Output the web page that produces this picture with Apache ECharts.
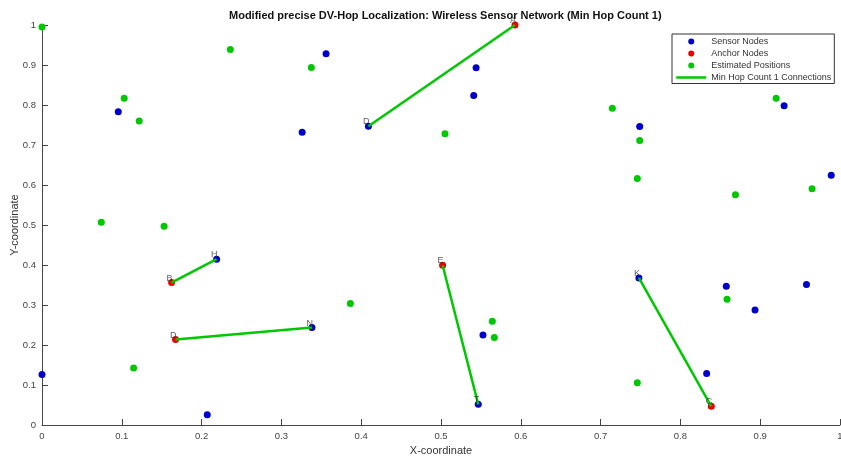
<!DOCTYPE html>
<html>
<head>
<meta charset="utf-8">
<script src="https://cdn.jsdelivr.net/npm/echarts@6/dist/echarts.min.js"></script>
<style>html,body{margin:0;padding:0;background:#fff;}#c{width:841px;height:458px;}</style>
</head>
<body>
<div id="c"></div>
<script>
// Sensor nodes (blue)
var sensorX = [0.0956, 0.326, 0.356, 0.409, 0.544, 0.541, 0.749, 0.930, 0.989, 0.2188,
               0.3383, 0.000, 0.2071, 0.5467, 0.5526, 0.748, 0.8329, 0.8575, 0.8935, 0.958];
var sensorY = [0.783, 0.732, 0.928, 0.747, 0.893, 0.824, 0.746, 0.798, 0.6245, 0.4145,
               0.2435, 0.126, 0.0258, 0.0516, 0.2252, 0.3678, 0.129, 0.3469, 0.2878, 0.3511];
// Anchor nodes (red)
var anchorX = [0.5927, 0.1624, 0.1674, 0.502, 0.8387];
var anchorY = [1.000, 0.356, 0.2135, 0.3994, 0.0466];
var anchorLabels = ['A', 'B', 'D', 'E', 'C'];
// Estimated positions (green)
var estX = [0.000, 0.236, 0.3375, 0.103, 0.1218, 0.0743, 0.153, 0.505, 0.7147, 0.749,
            0.746, 0.920, 0.965, 0.869, 0.3864, 0.1148, 0.5643, 0.5668, 0.746, 0.8584];
var estY = [0.995, 0.939, 0.894, 0.817, 0.760, 0.507, 0.497, 0.728, 0.792, 0.711,
            0.616, 0.817, 0.5905, 0.5755, 0.3035, 0.1426, 0.2593, 0.2185, 0.1058, 0.3143];
// Min hop count 1 connections: anchor index -> sensor index
var connAnchor = [0, 1, 2, 3, 4];
var connSensor = [3, 9, 10, 13, 15];
var connSensorLabels = ['D', 'H', 'N', 'T', 'K'];
// Tick settings
var axisMin = 0, axisMax = 1, axisStep = 0.1;

var BLUE = '#0000cc', RED = '#ee0000', GREEN = '#00c800';
var FONT = 'Liberation Sans, Arial, sans-serif';

function zip(a, b) { return a.map(function (v, i) { return [v, b[i]]; }); }

var series = [
  { name: 'Sensor Nodes', type: 'scatter', symbolSize: 7, itemStyle: { color: BLUE, opacity: 1 }, data: zip(sensorX, sensorY), z: 2 },
  { name: 'Anchor Nodes', type: 'scatter', symbolSize: 7, itemStyle: { color: RED, opacity: 1 }, data: zip(anchorX, anchorY), z: 2 },
  { name: 'Estimated Positions', type: 'scatter', symbolSize: 7, itemStyle: { color: GREEN, opacity: 1 }, data: zip(estX, estY), z: 2 }
];
var labelData = [];
connAnchor.forEach(function (a, k) {
  var s = connSensor[k];
  series.push({
    name: 'Min Hop Count 1 Connections', type: 'line', symbol: 'none', showSymbol: false,
    lineStyle: { color: GREEN, width: 2.5 }, itemStyle: { color: GREEN }, z: 3,
    data: [[anchorX[a], anchorY[a]], [sensorX[s], sensorY[s]]]
  });
  labelData.push({ value: [anchorX[a], anchorY[a]], name: anchorLabels[a] });
  labelData.push({ value: [sensorX[s], sensorY[s]], name: connSensorLabels[k] });
});
series.push({
  type: 'scatter', symbolSize: 0, z: 4, silent: true, data: labelData,
  label: { show: true, formatter: '{b}', position: 'top', distance: 0, align: 'right',
           offset: [1, 0], fontSize: 9, color: '#333', fontFamily: FONT }
});

var chart = echarts.init(document.getElementById('c'), null, { renderer: 'canvas' });
var axisCommon = {
  type: 'value', min: axisMin, max: axisMax, interval: axisStep,
  axisLine: { show: true, onZero: false, lineStyle: { color: '#444', width: 1 } },
  axisTick: { show: true, inside: true, length: 6, lineStyle: { color: '#444' } },
  splitLine: { show: false },
  nameLocation: 'middle',
  nameMoveOverlap: false,
  nameTextStyle: { fontSize: 11, color: '#333', fontFamily: FONT }
};
chart.setOption({
  animation: false,
  backgroundColor: '#fff',
  textStyle: { fontFamily: FONT },
  title: {
    text: 'Modified precise DV-Hop Localization: Wireless Sensor Network (Min Hop Count 1)',
    left: 224, top: 5,
    textStyle: { fontSize: 11, fontWeight: 'bold', color: '#111', fontFamily: FONT }
  },
  grid: { left: 42, right: 1, top: 25, bottom: 33, containLabel: false, outerBoundsMode: 'none' },
  xAxis: Object.assign({}, axisCommon, {
    name: 'X-coordinate', nameGap: 20,
    axisLabel: { margin: 6, fontSize: 9.5, color: '#444' }
  }),
  yAxis: Object.assign({}, axisCommon, {
    name: 'Y-coordinate', nameGap: 22,
    axisLabel: { margin: 6, fontSize: 9.5, color: '#444' }
  }),
  legend: {
    data: [
      { name: 'Sensor Nodes', icon: 'circle' },
      { name: 'Anchor Nodes', icon: 'circle' },
      { name: 'Estimated Positions', icon: 'circle' },
      { name: 'Min Hop Count 1 Connections', itemStyle: { opacity: 0 }, lineStyle: { width: 2.5, color: GREEN } }
    ],
    orient: 'vertical', left: 672, top: 34,
    padding: [1.5, 3, 0, 3], itemGap: 0, itemWidth: 30, itemHeight: 6, itemTextGap: 0,
    borderColor: '#333', borderWidth: 1, backgroundColor: '#fff',
    textStyle: { fontSize: 9, lineHeight: 12, color: '#333' }
  },
  series: series
});
</script>
</body>
</html>
